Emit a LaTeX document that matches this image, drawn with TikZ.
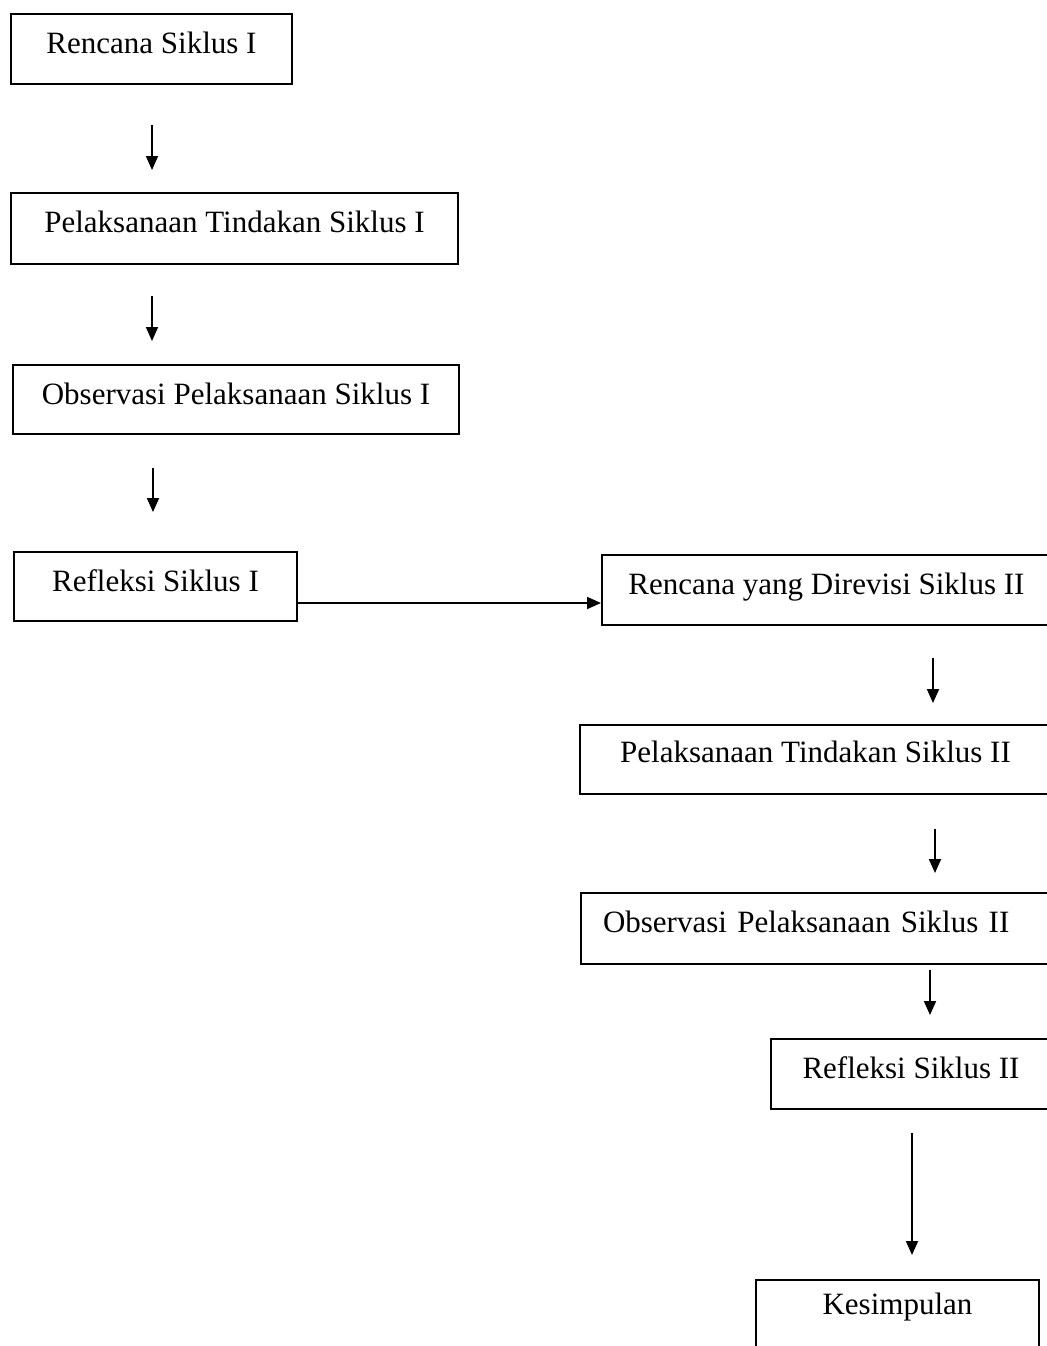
\documentclass[tikz,border=0pt]{standalone}
\usepackage{fontspec}
\setmainfont{Liberation Serif}
\usetikzlibrary{arrows.meta}

\tikzset{every picture/.style={line width=0.75pt}}
\tikzset{
  blok/.style={draw, line width=1pt, anchor=north west, inner xsep=0pt, inner ysep=0pt,
    text height=19.5pt, text depth=#1, font=\fontsize{15.5}{18}\selectfont},
  blok/.default=15.5pt,
  panah/.style={-{Triangle[length=7pt,width=6pt]}, line width=0.9pt}
}

\begin{document}
\begin{tikzpicture}[x=0.5pt,y=0.5pt,yscale=-1,xscale=1]
%set diagram page: width 1046, height 1346
\useasboundingbox (0,0) rectangle (1046,1346);

%Shape: Rectangle, siklus I
\node[blok, minimum width=140.5pt] (ren1) at (10,13) {Rencana Siklus I};
\node[blok=16pt, minimum width=223.5pt] (pel1) at (10,192) {Pelaksanaan Tindakan Siklus I};
\node[blok=15pt, minimum width=223pt] (obs1) at (12,364) {Observasi Pelaksanaan Siklus I};
\node[blok=15pt, minimum width=141.5pt] (ref1) at (13,551) {Refleksi Siklus I};

%Shape: Rectangle, siklus II
\node[blok, minimum width=224.5pt] (ren2) at (601,554) {Rencana yang Direvisi Siklus II};
\node[blok=16pt, text height=18.5pt, minimum width=235.5pt] (pel2) at (579,724) {Pelaksanaan Tindakan Siklus II};
\node[blok=16pt, inner xsep=11pt, text width=213pt, align=left] (obs2) at (580,892) {Observasi Pelaksanaan Siklus II};
\node[blok, minimum width=140pt] (ref2) at (770,1038) {Refleksi Siklus II};
\node[blok=23.5pt, text height=17pt, minimum width=141.5pt] (kes) at (755,1279) {Kesimpulan};

%Straight Lines, ends
\coordinate (a1) at (152,125);  \coordinate (b1) at (152,170);
\coordinate (a2) at (152,296);  \coordinate (b2) at (152,341);
\coordinate (a3) at (153,468);  \coordinate (b3) at (153,512);
\coordinate (a5) at (933,658);  \coordinate (b5) at (933,703);
\coordinate (a6) at (935,829);  \coordinate (b6) at (935,873);
\coordinate (a7) at (930,970);  \coordinate (b7) at (930,1015);
\coordinate (a8) at (912,1133); \coordinate (b8) at (912,1255);

%Straight Lines
\draw[panah] (a1) -- (b1);
\draw[panah] (a2) -- (b2);
\draw[panah] (a3) -- (b3);
\draw[panah] ([yshift=8.25pt]ref1.east) -- ([yshift=6.5pt]ren2.west);
\draw[panah] (a5) -- (b5);
\draw[panah] (a6) -- (b6);
\draw[panah] (a7) -- (b7);
\draw[panah] (a8) -- (b8);

\end{tikzpicture}
\end{document}
